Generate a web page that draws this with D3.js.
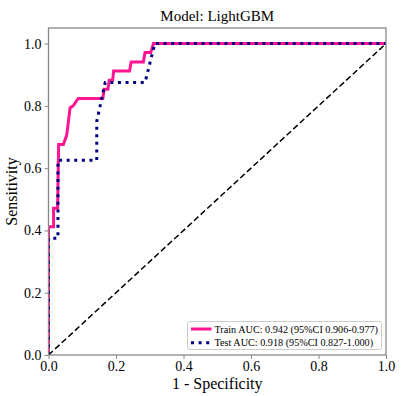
<!DOCTYPE html>
<html>
<head>
<meta charset="utf-8">
<script src="https://cdn.jsdelivr.net/npm/d3@7"></script>
<style>
  body { margin: 0; background: #fff; }
  svg { display: block; font-family: "Liberation Serif", "Times New Roman", serif; }
  .axis path, .axis line { stroke: #888; }
  .axis text { fill: #000; }
</style>
</head>
<body>
<div id="chart"></div>
<script>
// ROC points
const trainFpr = [0, 0, 0.015, 0.015, 0.027, 0.030, 0.044, 0.054, 0.064, 0.073, 0.088, 0.161, 0.165, 0.176, 0.180, 0.190, 0.193, 0.240, 0.245, 0.281, 0.286, 0.303, 0.311, 1.0];
const trainTpr = [0, 0.412, 0.412, 0.471, 0.471, 0.676, 0.676, 0.706, 0.794, 0.800, 0.824, 0.824, 0.853, 0.853, 0.882, 0.882, 0.912, 0.912, 0.941, 0.941, 0.971, 0.971, 1.0, 1.0];
const testFpr = [0, 0, 0.028, 0.028, 0.143, 0.143, 0.168, 0.286, 0.315, 1.0];
const testTpr = [0, 0.375, 0.375, 0.625, 0.625, 0.75, 0.875, 0.875, 1.0, 1.0];
const xTicks = [0, 0.2, 0.4, 0.6, 0.8, 1.0];
const yTicks = [0, 0.2, 0.4, 0.6, 0.8, 1.0];
const legendLabels = ['Train AUC: 0.942 (95%CI 0.906-0.977)', 'Test AUC: 0.918 (95%CI 0.827-1.000)'];

const W = 401, H = 396;
const m = { left: 48.5, right: 15, top: 28, bottom: 41 };
const serif = '"Liberation Serif", "Times New Roman", serif';

const svg = d3.select('#chart').append('svg').attr('width', W).attr('height', H);

const x = d3.scaleLinear().domain([0, 1]).range([m.left, W - m.right]);
const y = d3.scaleLinear().domain([0, 1.05]).range([H - m.bottom, m.top]);

svg.append('defs').append('clipPath').attr('id', 'plot')
  .append('rect')
  .attr('x', x(0)).attr('y', y(1.05))
  .attr('width', x(1) - x(0)).attr('height', y(0) - y(1.05));

const plotG = svg.append('g').attr('clip-path', 'url(#plot)');

// chance line
plotG.append('line')
  .attr('x1', x(0)).attr('y1', y(0)).attr('x2', x(1)).attr('y2', y(1))
  .attr('stroke', '#000').attr('stroke-width', 1.5).attr('stroke-dasharray', '6,3');

const line = d3.line().x(d => x(d[0])).y(d => y(d[1]));

plotG.append('path')
  .datum(d3.zip(trainFpr, trainTpr))
  .attr('d', line)
  .attr('fill', 'none').attr('stroke', '#ff1493').attr('stroke-width', 3);

plotG.append('path')
  .datum(d3.zip(testFpr, testTpr))
  .attr('d', line)
  .attr('fill', 'none').attr('stroke', '#000080').attr('stroke-width', 3)
  .attr('stroke-dasharray', '3,4.6');

// spines
svg.append('rect')
  .attr('x', x(0)).attr('y', y(1.05))
  .attr('width', x(1) - x(0)).attr('height', y(0) - y(1.05))
  .attr('fill', 'none').attr('stroke', '#888').attr('stroke-width', 1.3);

svg.append('g').attr('class', 'axis')
  .attr('transform', `translate(0,${y(0)})`)
  .call(d3.axisBottom(x).tickValues(xTicks).tickFormat(d3.format('.1f')).tickSize(4).tickPadding(2))
  .attr('font-family', serif).attr('font-size', 14)
  .call(g => g.select('.domain').remove());

svg.append('g').attr('class', 'axis')
  .attr('transform', `translate(${x(0)},0)`)
  .call(d3.axisLeft(y).tickValues(yTicks).tickFormat(d3.format('.1f')).tickSize(4).tickPadding(3))
  .attr('font-family', serif).attr('font-size', 14)
  .call(g => g.select('.domain').remove());

// title + labels
svg.append('text')
  .attr('x', (x(0) + x(1)) / 2).attr('y', 21)
  .attr('text-anchor', 'middle').attr('font-size', 15)
  .text('Model: LightGBM');

svg.append('text')
  .attr('x', (x(0) + x(1)) / 2).attr('y', 389)
  .attr('text-anchor', 'middle').attr('font-size', 16)
  .text('1 - Specificity');

svg.append('text')
  .attr('transform', `translate(17,${(y(0) + y(1.05)) / 2}) rotate(-90)`)
  .attr('text-anchor', 'middle').attr('font-size', 16)
  .text('Sensitivity');

// legend
const lg = svg.append('g');
lg.append('rect')
  .attr('x', 187.5).attr('y', 321.5).attr('width', 194).attr('height', 28)
  .attr('rx', 2.5)
  .attr('fill', '#fff').attr('fill-opacity', 0.8)
  .attr('stroke', '#ccc').attr('stroke-width', 1);

const legendStyles = [
  { color: '#ff1493', dash: null },
  { color: '#000080', dash: '3,4.6' }
];
legendLabels.forEach((label, i) => {
  const ly = 329 + i * 13.7;
  lg.append('line')
    .attr('x1', 191).attr('x2', 211.5).attr('y1', ly).attr('y2', ly)
    .attr('stroke', legendStyles[i].color).attr('stroke-width', 3)
    .attr('stroke-dasharray', legendStyles[i].dash);
  lg.append('text')
    .attr('x', 214.5).attr('y', ly + 3.5)
    .attr('font-size', 10.2)
    .text(label);
});
</script>
</body>
</html>
